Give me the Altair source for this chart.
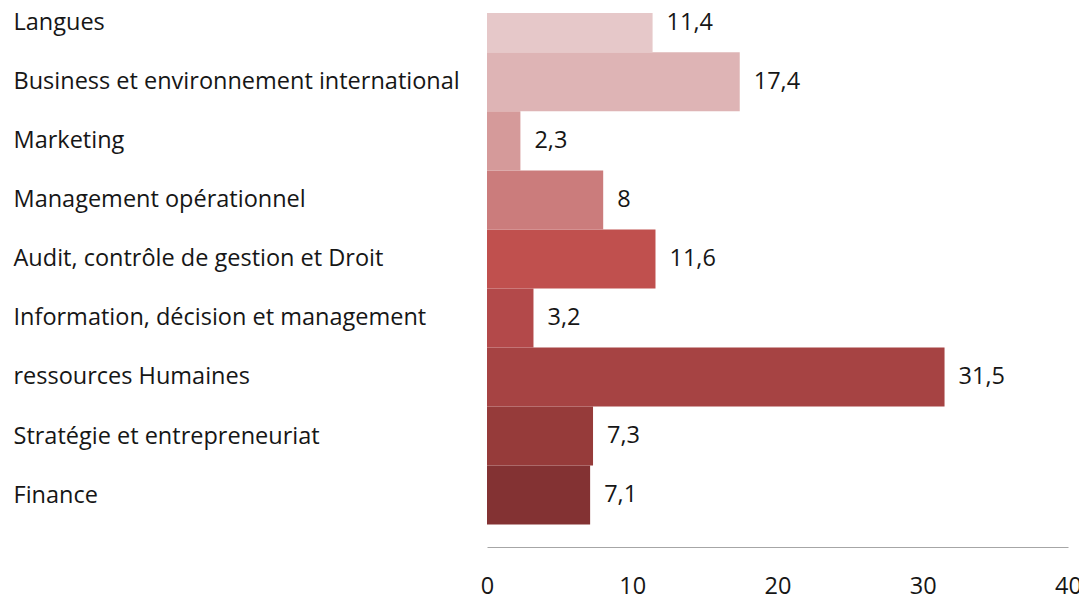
import altair as alt
import pandas as pd

# bottom-to-top order
categories = [
    "Finance",
    "Stratégie et entrepreneuriat",
    "ressources Humaines",
    "Information, décision et management",
    "Audit, contrôle de gestion et Droit",
    "Management opérationnel",
    "Marketing",
    "Business et environnement international",
    "Langues",
]
values = [7.1, 7.3, 31.5, 3.2, 11.6, 8, 2.3, 17.4, 11.4]
colors = ["#833233", "#963B3A", "#A64343", "#B3494A", "#C0504E",
          "#CB7C7C", "#D59A9A", "#DEB4B5", "#E6C8C9"]
x_ticks = [0, 10, 20, 30, 40]

rows = []
for i, (c, v) in enumerate(zip(categories, values)):
    lbl = (f"{v:g}").replace(".", ",")
    rows.append({"cat": c, "v": v, "lo": i, "hi": i + 1, "mid": i + 0.5, "lbl": lbl})
df = pd.DataFrame(rows)

FONT = "Open Sans"
FS = 23.5
TXT = "#161616"
label_expr = "[" + ",".join(f"'{c}'" for c in categories) + "][floor(datum.value)]"

yscale = alt.Scale(domain=[-0.38, 8.666], nice=False, zero=False)
xscale = alt.Scale(domain=[0, 40], nice=False)

base = alt.Chart(df)

bars = base.mark_bar(clip=True).encode(
    x=alt.X("v:Q", scale=xscale,
            axis=alt.Axis(values=x_ticks, title=None, grid=False, ticks=False,
                          domainColor="#a6a6a6", domainWidth=1.2,
                          labelFont=FONT, labelFontSize=FS, labelColor=TXT,
                          labelPadding=27, labelFlush=False)),
    x2=alt.datum(0),
    y=alt.Y("lo:Q", scale=yscale,
            axis=alt.Axis(values=[i + 0.5 for i in range(len(categories))],
                          labelExpr=label_expr, title=None, grid=False,
                          ticks=False, domain=False, labelAlign="left",
                          labelPadding=474, labelFont=FONT, labelFontSize=FS,
                          labelColor=TXT, labelBaseline="middle",
                          labelLimit=0, labelFlush=False)),
    y2="hi:Q",
    color=alt.Color("cat:N", scale=alt.Scale(domain=categories, range=colors),
                    legend=None),
)

texts = base.mark_text(align="left", baseline="middle", dx=14, font=FONT,
                       fontSize=FS, color=TXT).encode(
    x=alt.X("v:Q", scale=xscale),
    y=alt.Y("mid:Q", scale=yscale),
    text="lbl:N",
)

chart = (bars + texts).properties(
    width=581, height=534, background="white",
    autosize=alt.AutoSizeParams(type="none"),
    padding={"left": 479, "top": 5, "right": 11, "bottom": 54},
).configure_view(strokeWidth=0)

chart.save("out.html", embed_options={"renderer": "svg", "actions": False})
